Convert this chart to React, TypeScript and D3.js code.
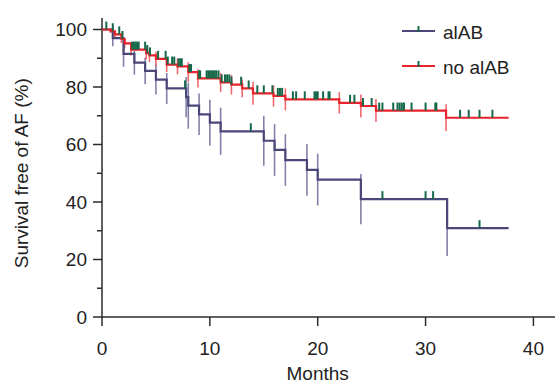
import React, { useEffect, useRef } from 'react';
import * as d3 from 'd3';

// event times (months), survival after the event (%), standard error (%)
const alabTimes = [1.0, 2.0, 3.0, 4.0, 5.0, 6.0, 7.8, 8.0, 9.0, 10.0, 11.0, 15.0, 16.0, 17.0, 19.0, 20.0, 24.0, 32.0];
const alabSurv = [97.0, 91.5, 88.5, 85.6, 82.6, 79.5, 76.5, 73.5, 70.5, 67.6, 64.6, 61.3, 58.1, 54.6, 51.2, 47.8, 41.0, 30.9];
const alabSE = [2.8, 4.5, 4.2, 4.6, 5.2, 5.4, 7.0, 8.0, 7.2, 8.0, 8.2, 8.7, 9.0, 9.0, 9.0, 9.0, 8.7, 9.7];
const alabCensor = [7.7, 13.8, 26.0, 30.0, 30.7, 35.0];
const alabEnd = 37.7;

const noTimes = [0.8, 1.2, 1.8, 2.1, 2.7, 4.1, 4.4, 5.0, 6.0, 7.0, 8.0, 8.9, 11.0, 12.0, 13.0, 14.0, 15.9, 17.0, 22.0, 24.0, 25.4, 31.9];
const noSurv = [99.4, 98.3, 96.7, 95.2, 93.0, 91.8, 91.0, 89.8, 87.8, 87.2, 85.2, 83.0, 81.6, 80.8, 79.5, 77.8, 76.9, 75.7, 74.5, 73.4, 71.8, 69.3];
const noSE = [0.6, 1.0, 1.4, 1.7, 2.0, 2.2, 2.3, 2.5, 2.6, 2.8, 3.4, 3.2, 3.3, 3.4, 3.1, 4.0, 3.7, 3.8, 3.7, 4.0, 4.0, 4.7];
const noCensor = [0.4, 1.0, 1.6, 1.9, 2.8, 2.95, 3.1, 3.25, 3.4, 4.0, 4.2, 4.45, 5.2, 5.9, 6.1, 6.5, 6.7, 7.1, 7.25, 7.4,
	8.1, 8.25, 9.0, 9.1, 9.7, 9.85, 10.0, 10.15, 10.3, 10.45, 10.6, 10.8, 11.1, 11.4, 11.6, 11.8, 12.0, 12.9, 13.6, 14.4,
	15.0, 15.8, 16.3, 16.5, 16.7, 17.7, 18.0, 18.8, 19.7, 19.85, 20.0, 20.5, 21.0, 21.1, 23.0, 23.4, 24.2, 25.0, 25.7, 26.0,
	27.0, 27.4, 27.6, 27.8, 28.0, 28.7, 30.0, 30.9, 31.0, 33.2, 34.0, 35.0, 36.2];
const noEnd = 37.7;

const xTicks = [0, 10, 20, 30, 40];
const yTicks = [0, 20, 40, 60, 80, 100];
const yMinor = [10, 30, 50, 70, 90];

const groups = [
	{ name: 'alAB', times: alabTimes, surv: alabSurv, se: alabSE, censor: alabCensor, end: alabEnd, line: '#4a4778', bar: '#6d6a98' },
	{ name: 'no alAB', times: noTimes, surv: noSurv, se: noSE, censor: noCensor, end: noEnd, line: '#e8232b', bar: '#ef4d55' },
];

const W = 555;
const H = 384;
const font = '"Liberation Sans", Arial, Helvetica, sans-serif';

export default function App() {
	const ref = useRef<SVGSVGElement>(null);

	useEffect(() => {
		const svg = d3.select(ref.current);
		svg.selectAll('*').remove();

		const x = d3.scaleLinear().domain([0, 42]).range([102, 555]);
		const y = d3.scaleLinear().domain([0, 104]).range([317, 18]);
		const axisColor = '#2b2b2b';
		const g = svg.append('g').style('font-family', font);

		// axes
		g.append('line').attr('x1', x(0)).attr('x2', x(42)).attr('y1', y(0)).attr('y2', y(0))
			.attr('stroke', axisColor).attr('stroke-width', 1.5);
		g.append('line').attr('x1', x(0)).attr('x2', x(0)).attr('y1', y(0)).attr('y2', y(104))
			.attr('stroke', axisColor).attr('stroke-width', 1.5);

		g.selectAll('.xt').data(xTicks).enter().append('line')
			.attr('x1', d => x(d)).attr('x2', d => x(d)).attr('y1', y(0)).attr('y2', y(0) + 9)
			.attr('stroke', axisColor).attr('stroke-width', 1.5);
		g.selectAll('.xl').data(xTicks).enter().append('text')
			.attr('x', d => x(d)).attr('y', y(0) + 38).attr('text-anchor', 'middle')
			.attr('font-size', 19).attr('fill', '#222').text(d => d);

		g.selectAll('.yt').data(yTicks).enter().append('line')
			.attr('x1', x(0) - 9).attr('x2', x(0)).attr('y1', d => y(d)).attr('y2', d => y(d))
			.attr('stroke', axisColor).attr('stroke-width', 1.5);
		g.selectAll('.ym').data(yMinor).enter().append('line')
			.attr('x1', x(0) - 5).attr('x2', x(0)).attr('y1', d => y(d)).attr('y2', d => y(d))
			.attr('stroke', axisColor).attr('stroke-width', 1.5);
		g.selectAll('.yl').data(yTicks).enter().append('text')
			.attr('x', x(0) - 15).attr('y', d => y(d)).attr('dy', '0.36em').attr('text-anchor', 'end')
			.attr('font-size', 19).attr('fill', '#222').text(d => d);

		g.append('text').attr('x', x(20)).attr('y', 380).attr('text-anchor', 'middle')
			.attr('font-size', 19).attr('fill', '#222').text('Months');
		g.append('text').attr('transform', `translate(28,${y(50)}) rotate(-90)`).attr('text-anchor', 'middle')
			.attr('font-size', 19).attr('fill', '#222').text('Survival free of AF (%)');

		const stepLine = d3.line<[number, number]>().x(d => x(d[0])).y(d => y(d[1])).curve(d3.curveStepAfter);

		const survAt = (grp, t) => {
			let s = 100;
			grp.times.forEach((tt, i) => { if (tt <= t) s = grp.surv[i]; });
			return s;
		};

		// error bars
		groups.forEach(grp => {
			g.selectAll(null).data(grp.times).enter().append('line')
				.attr('x1', d => x(d)).attr('x2', d => x(d))
				.attr('y1', (d, i) => y(grp.surv[i] + grp.se[i])).attr('y2', (d, i) => y(grp.surv[i] - grp.se[i]))
				.attr('stroke', grp.bar).attr('stroke-opacity', 0.85).attr('stroke-width', 1.6);
		});

		// survival curves
		groups.forEach(grp => {
			const pts: [number, number][] = [[0, 100], ...grp.times.map((t, i) => [t, grp.surv[i]] as [number, number]),
				[grp.end, grp.surv[grp.surv.length - 1]]];
			g.append('path').attr('d', stepLine(pts)).attr('fill', 'none')
				.attr('stroke', grp.line).attr('stroke-width', 2.2);
		});

		// censor marks
		groups.forEach(grp => {
			g.selectAll(null).data(grp.censor).enter().append('line')
				.attr('x1', d => x(d)).attr('x2', d => x(d))
				.attr('y1', d => y(survAt(grp, d)) - 8).attr('y2', d => y(survAt(grp, d)))
				.attr('stroke', '#15694a').attr('stroke-width', 2);
		});

		// legend
		const leg = g.selectAll('.leg').data(groups).enter().append('g')
			.attr('transform', (d, i) => `translate(402,${31 + i * 35})`);
		leg.append('line').attr('x1', 0).attr('x2', 33).attr('y1', 0).attr('y2', 0)
			.attr('stroke', d => d.line).attr('stroke-width', 2.2);
		leg.append('line').attr('x1', 16.5).attr('x2', 16.5).attr('y1', -5).attr('y2', 1)
			.attr('stroke', '#15694a').attr('stroke-width', 2);
		leg.append('text').attr('x', 41).attr('y', 1).attr('dy', '0.36em')
			.attr('font-size', 19).attr('fill', '#222').text(d => d.name);
	}, []);

	return (
		<svg ref={ref} width={W} height={H} style={{ position: 'absolute', left: 0, top: 0, background: '#fff' }} />
	);
}
